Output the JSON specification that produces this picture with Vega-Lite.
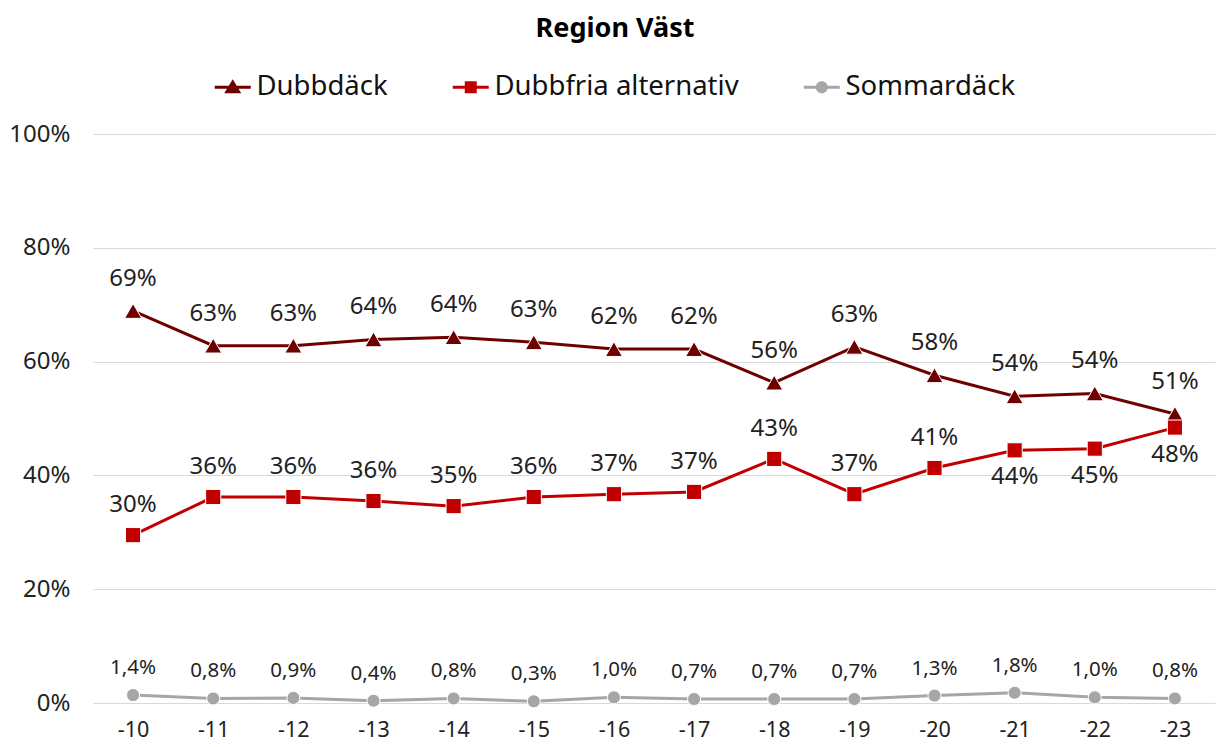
{
  "$schema": "https://vega.github.io/schema/vega-lite/v6.json",
  "width": 1122,
  "height": 569,
  "autosize": "none",
  "padding": {"left": 93, "top": 134, "right": 1, "bottom": 44},
  "background": "white",
  "config": {
    "locale": {"number": {"decimal": ",", "thousands": " ", "grouping": [3], "currency": ["", " kr"]}},
    "font": "Noto Sans",
    "view": {"stroke": null}
  },
  "title": {"text": "Region Väst", "fontSize": 27, "fontWeight": "bold", "font": "Noto Sans", "color": "#000000", "anchor": "middle", "dx": -39, "offset": 30},
  "data": {"values": [
    {"period": "-10", "series": "Dubbdäck", "value": 0.689},
    {"period": "-11", "series": "Dubbdäck", "value": 0.628},
    {"period": "-12", "series": "Dubbdäck", "value": 0.628},
    {"period": "-13", "series": "Dubbdäck", "value": 0.639},
    {"period": "-14", "series": "Dubbdäck", "value": 0.643},
    {"period": "-15", "series": "Dubbdäck", "value": 0.634},
    {"period": "-16", "series": "Dubbdäck", "value": 0.622},
    {"period": "-17", "series": "Dubbdäck", "value": 0.622},
    {"period": "-18", "series": "Dubbdäck", "value": 0.563},
    {"period": "-19", "series": "Dubbdäck", "value": 0.626},
    {"period": "-20", "series": "Dubbdäck", "value": 0.576},
    {"period": "-21", "series": "Dubbdäck", "value": 0.539},
    {"period": "-22", "series": "Dubbdäck", "value": 0.544},
    {"period": "-23", "series": "Dubbdäck", "value": 0.508},
    {"period": "-10", "series": "Dubbfria alternativ", "value": 0.295},
    {"period": "-11", "series": "Dubbfria alternativ", "value": 0.362},
    {"period": "-12", "series": "Dubbfria alternativ", "value": 0.362},
    {"period": "-13", "series": "Dubbfria alternativ", "value": 0.355},
    {"period": "-14", "series": "Dubbfria alternativ", "value": 0.346},
    {"period": "-15", "series": "Dubbfria alternativ", "value": 0.362},
    {"period": "-16", "series": "Dubbfria alternativ", "value": 0.367},
    {"period": "-17", "series": "Dubbfria alternativ", "value": 0.371},
    {"period": "-18", "series": "Dubbfria alternativ", "value": 0.429},
    {"period": "-19", "series": "Dubbfria alternativ", "value": 0.367},
    {"period": "-20", "series": "Dubbfria alternativ", "value": 0.413},
    {"period": "-21", "series": "Dubbfria alternativ", "value": 0.444},
    {"period": "-22", "series": "Dubbfria alternativ", "value": 0.447},
    {"period": "-23", "series": "Dubbfria alternativ", "value": 0.484},
    {"period": "-10", "series": "Sommardäck", "value": 0.014},
    {"period": "-11", "series": "Sommardäck", "value": 0.008},
    {"period": "-12", "series": "Sommardäck", "value": 0.009},
    {"period": "-13", "series": "Sommardäck", "value": 0.004},
    {"period": "-14", "series": "Sommardäck", "value": 0.008},
    {"period": "-15", "series": "Sommardäck", "value": 0.003},
    {"period": "-16", "series": "Sommardäck", "value": 0.010},
    {"period": "-17", "series": "Sommardäck", "value": 0.007},
    {"period": "-18", "series": "Sommardäck", "value": 0.007},
    {"period": "-19", "series": "Sommardäck", "value": 0.007},
    {"period": "-20", "series": "Sommardäck", "value": 0.013},
    {"period": "-21", "series": "Sommardäck", "value": 0.018},
    {"period": "-22", "series": "Sommardäck", "value": 0.010},
    {"period": "-23", "series": "Sommardäck", "value": 0.008}
  ]},
  "encoding": {
    "x": {"field": "period", "type": "ordinal", "sort": null,
      "scale": {"type": "point", "padding": 0.5},
      "axis": {"title": null, "labelAngle": 0, "labelFontSize": 21.5, "labelColor": "#222222", "labelFont": "Noto Sans", "ticks": false, "domain": false, "labelPadding": 16, "grid": false}},
    "y": {"field": "value", "type": "quantitative",
      "scale": {"domain": [0, 1], "nice": false},
      "axis": {"title": null, "values": [0, 0.2, 0.4, 0.6, 0.8, 1], "format": ".0%", "labelFontSize": 24, "labelColor": "#222222", "labelFont": "Noto Sans", "ticks": false, "domain": false, "labelPadding": 23, "gridColor": "#d9d9d9", "gridWidth": 1}}
  },
  "layer": [
    {
      "mark": {"type": "line", "strokeWidth": 3},
      "encoding": {
        "color": {"field": "series", "type": "nominal",
          "scale": {"domain": ["Dubbdäck", "Dubbfria alternativ", "Sommardäck"], "range": ["#6e0000", "#c00000", "#a6a6a6"]},
          "legend": {"title": null, "orient": "none", "legendX": 126, "legendY": -61, "direction": "horizontal",
            "labelFontSize": 27.5, "labelFont": "Noto Sans", "labelColor": "#111111", "labelLimit": 500, "symbolSize": 400, "labelOffset": 10, "columnPadding": 64, "padding": 0,
            "encode": {"symbols": {"update": {
              "shape": {"signal": "datum.value === 'Dubbdäck' ? 'M-1.8,-0.15H1.8V0.15H-1.8Z M0,-0.8L0.85,0.6H-0.85Z' : datum.value === 'Dubbfria alternativ' ? 'M-1.8,-0.15H1.8V0.15H-1.8Z M-0.6,-0.6H0.6V0.6H-0.6Z' : 'M-1.8,-0.15H1.8V0.15H-1.8Z M0.6,0A0.6,0.6,0,1,1,-0.6,0A0.6,0.6,0,1,1,0.6,0Z'"},
              "fill": {"scale": "color", "field": "value"},
              "strokeWidth": {"value": 0},
              "opacity": {"value": 1}
            }}}}
        }
      }
    },
    {
      "transform": [{"filter": "datum.series === 'Dubbdäck'"}],
      "mark": {"type": "point", "shape": "triangle-up", "size": 290, "filled": true, "opacity": 1, "stroke": "white", "strokeWidth": 1},
      "encoding": {"color": {"field": "series", "type": "nominal", "legend": null}}
    },
    {
      "transform": [{"filter": "datum.series === 'Dubbfria alternativ'"}],
      "mark": {"type": "point", "shape": "square", "size": 230, "filled": true, "opacity": 1, "stroke": "white", "strokeWidth": 1},
      "encoding": {"color": {"field": "series", "type": "nominal", "legend": null}}
    },
    {
      "transform": [{"filter": "datum.series === 'Sommardäck'"}],
      "mark": {"type": "point", "shape": "circle", "size": 170, "filled": true, "opacity": 1, "stroke": "white", "strokeWidth": 1},
      "encoding": {"color": {"field": "series", "type": "nominal", "legend": null}}
    },
    {
      "transform": [{"filter": "datum.series === 'Dubbdäck'"}],
      "mark": {"type": "text", "dy": -32, "fontSize": 24, "color": "#222222", "font": "Noto Sans"},
      "encoding": {"text": {"field": "value", "type": "quantitative", "format": ".0%"}}
    },
    {
      "transform": [{"filter": "datum.series === 'Dubbfria alternativ' && indexof(['-21','-22','-23'], datum.period) < 0"}],
      "mark": {"type": "text", "dy": -30, "fontSize": 24, "color": "#222222", "font": "Noto Sans"},
      "encoding": {"text": {"field": "value", "type": "quantitative", "format": ".0%"}}
    },
    {
      "transform": [{"filter": "datum.series === 'Dubbfria alternativ' && indexof(['-21','-22','-23'], datum.period) >= 0"}],
      "mark": {"type": "text", "dy": 27, "fontSize": 24, "color": "#222222", "font": "Noto Sans"},
      "encoding": {"text": {"field": "value", "type": "quantitative", "format": ".0%"}}
    },
    {
      "transform": [{"filter": "datum.series === 'Sommardäck'"}],
      "mark": {"type": "text", "dy": -27, "fontSize": 20.5, "color": "#222222", "font": "Noto Sans"},
      "encoding": {"text": {"field": "value", "type": "quantitative", "format": ".1%"}}
    }
  ]
}
